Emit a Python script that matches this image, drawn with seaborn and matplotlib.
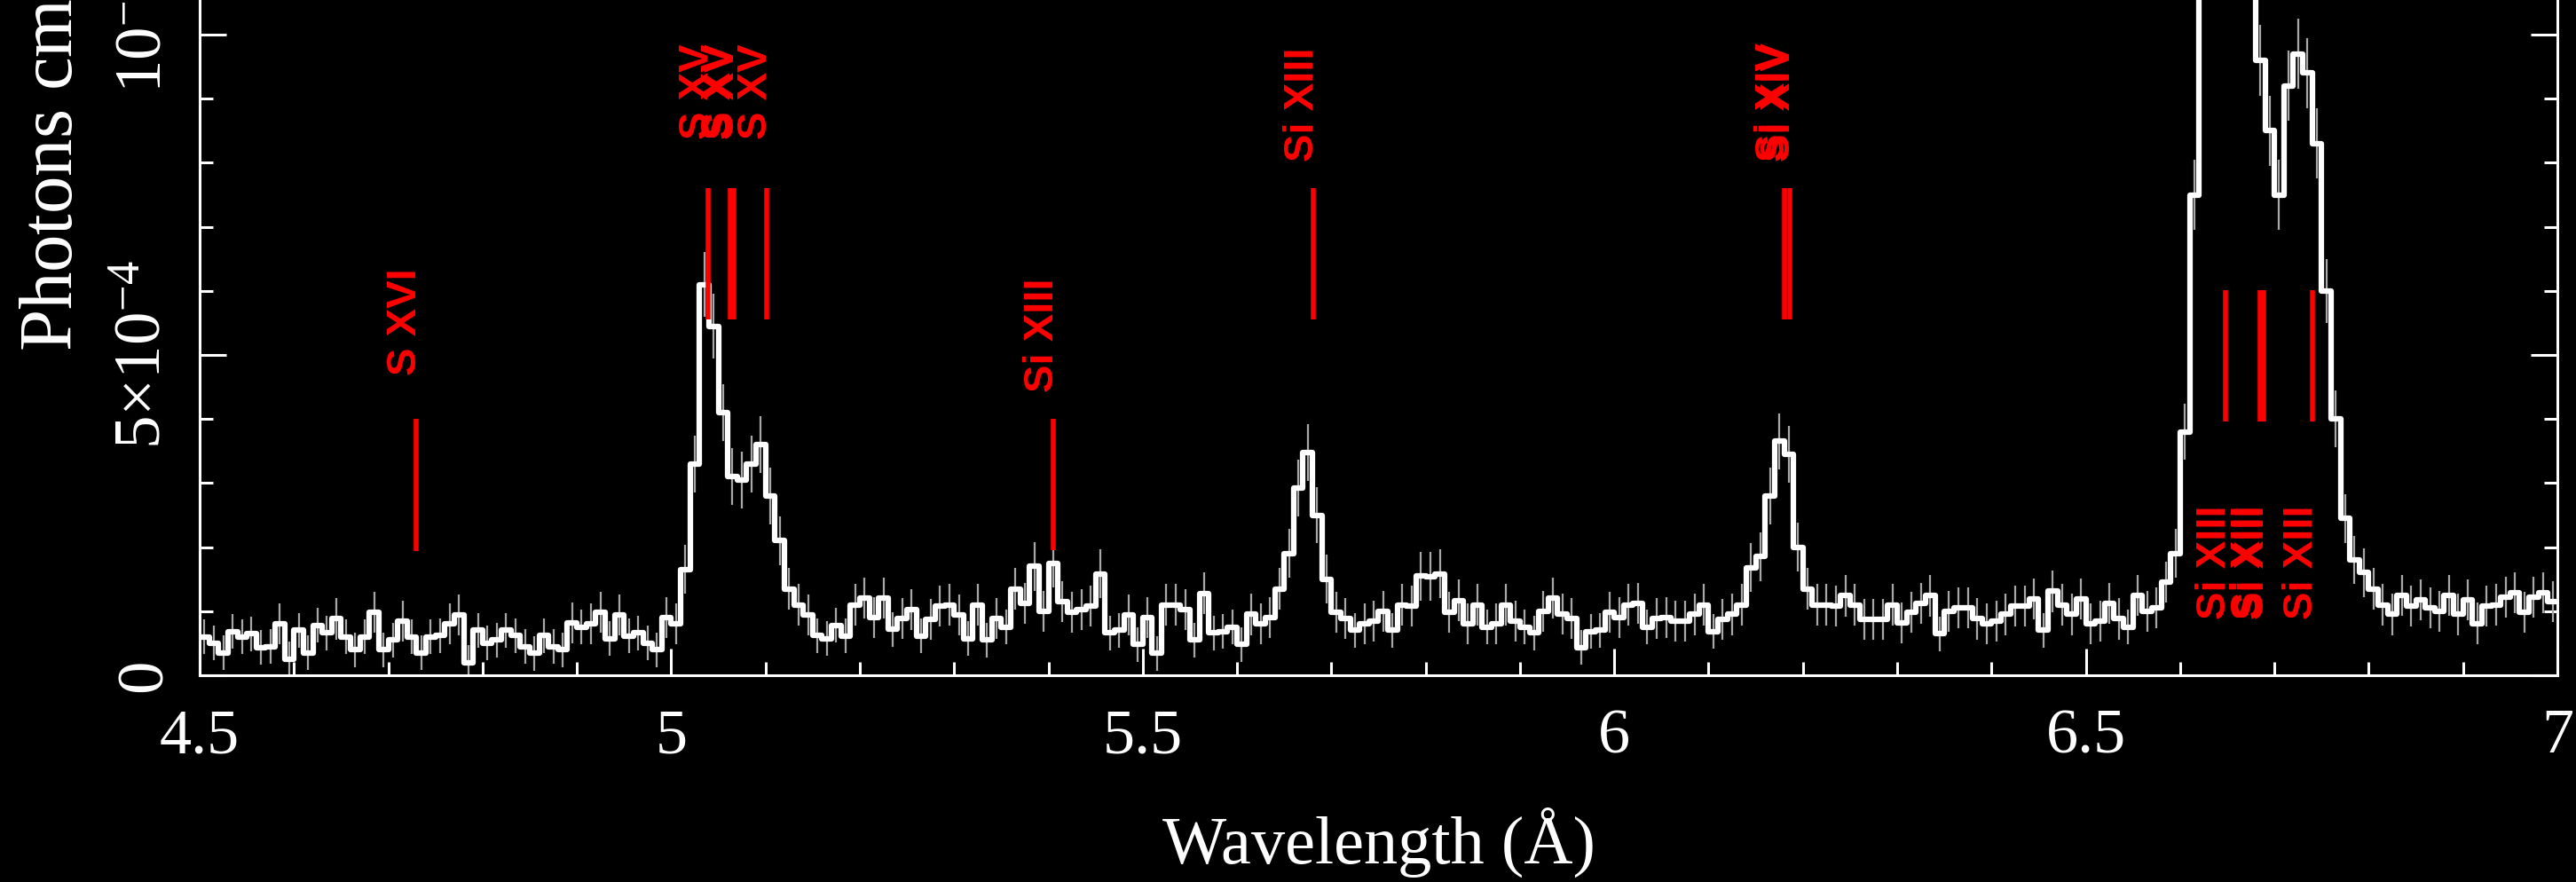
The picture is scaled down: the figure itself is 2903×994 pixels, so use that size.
import numpy as np
import pandas as pd
import matplotlib
matplotlib.use("Agg")
import matplotlib.pyplot as plt
import seaborn as sns
from matplotlib.ticker import MultipleLocator

# ---------------- data (flux in units of 1e-4) ----------------
bin_start = 4.50
bin_width = 0.01

flux_450 = [0.6, 0.5, 0.35, 0.68, 0.6, 0.65, 0.43, 0.45, 0.8, 0.25,
            0.7, 0.35, 0.78, 0.66, 0.88, 0.6, 0.4, 0.6, 0.98, 0.4,
            0.55, 0.84, 0.6, 0.35, 0.6, 0.62, 0.8, 0.94, 0.2, 0.7,
            0.5, 0.55, 0.7, 0.62, 0.45, 0.34, 0.62, 0.45, 0.4, 0.82,
            0.75, 0.8, 0.98, 0.57, 0.94, 0.61, 0.66, 0.5, 0.4, 0.9]
flux_500 = [0.8, 1.65, 3.3, 6.1, 5.45, 4.1, 3.1, 3.05, 3.3, 3.6,
            2.8, 2.1, 1.35, 1.1, 0.94, 0.62, 0.57, 0.78, 0.61, 1.1,
            1.2, 0.9, 1.2, 0.72, 0.89, 1.03, 0.61, 0.87, 1.08, 1.1,
            0.94, 0.57, 1.1, 0.55, 0.89, 0.75, 1.35, 1.12, 1.7, 1.0,
            1.75, 1.15, 0.98, 1.03, 1.08, 1.58, 0.66, 0.7, 0.94, 0.48]
flux_550 = [0.9, 0.34, 1.1, 1.1, 1.03, 0.55, 1.28, 0.66, 0.68, 0.75,
            0.48, 0.95, 0.8, 0.9, 1.35, 1.9, 2.92, 3.48, 2.5, 1.5,
            0.98, 0.89, 0.7, 0.8, 0.85, 1.0, 0.7, 1.1, 1.08, 1.55,
            1.54, 1.58, 0.98, 1.17, 0.8, 1.1, 0.75, 0.8, 1.1, 0.84,
            0.75, 0.66, 1.0, 1.2, 0.96, 0.89, 0.43, 0.68, 0.7, 0.98]
flux_600 = [0.9, 1.1, 1.12, 0.75, 0.89, 0.9, 0.85, 0.84, 0.95, 1.1,
            0.68, 0.87, 0.95, 1.1, 1.68, 1.85, 2.8, 3.65, 3.45, 2.0,
            1.35, 1.1, 1.1, 1.08, 1.24, 1.1, 0.87, 0.87, 0.87, 1.1,
            0.82, 0.98, 1.12, 1.24, 0.65, 1.0, 1.05, 1.05, 0.88, 0.8,
            0.85, 0.95, 1.08, 1.08, 1.19, 0.7, 1.31, 1.1, 0.95, 1.19]
flux_650 = [0.8, 0.85, 1.12, 0.88, 0.75, 1.25, 1.0, 1.05, 1.45, 1.9,
            3.8, 7.5, 12.5, 14.5, 15.5, 15.0, 13.0, 11.2, 9.6, 8.5,
            7.5, 9.2, 9.7, 9.4, 8.3, 6.0, 4.0, 2.45, 1.8, 1.6,
            1.35, 1.1, 0.95, 1.25, 1.08, 1.18, 1.05, 1.0, 1.25, 0.95,
            1.18, 0.81, 1.08, 1.1, 1.22, 1.29, 0.98, 1.22, 1.29, 1.15]

err_450 = [0.27, 0.27, 0.27, 0.27, 0.27, 0.27, 0.27, 0.27, 0.32, 0.27,
           0.27, 0.27, 0.27, 0.27, 0.32, 0.27, 0.27, 0.27, 0.32, 0.27,
           0.27, 0.32, 0.27, 0.27, 0.27, 0.27, 0.32, 0.32, 0.27, 0.27,
           0.27, 0.27, 0.27, 0.27, 0.27, 0.27, 0.27, 0.27, 0.27, 0.32,
           0.27, 0.32, 0.32, 0.27, 0.32, 0.27, 0.27, 0.27, 0.27, 0.32]
err_500 = [0.32, 0.38, 0.44, 0.5, 0.5, 0.44, 0.44, 0.44, 0.44, 0.44,
           0.44, 0.38, 0.32, 0.32, 0.32, 0.27, 0.27, 0.27, 0.27, 0.32,
           0.32, 0.32, 0.32, 0.27, 0.32, 0.32, 0.27, 0.32, 0.32, 0.32,
           0.32, 0.27, 0.32, 0.27, 0.32, 0.27, 0.32, 0.32, 0.38, 0.32,
           0.38, 0.32, 0.32, 0.32, 0.32, 0.38, 0.27, 0.27, 0.32, 0.27]
err_550 = [0.32, 0.27, 0.32, 0.32, 0.32, 0.27, 0.32, 0.27, 0.27, 0.27,
           0.27, 0.32, 0.32, 0.32, 0.32, 0.38, 0.44, 0.44, 0.44, 0.38,
           0.32, 0.32, 0.27, 0.32, 0.32, 0.32, 0.27, 0.32, 0.32, 0.38,
           0.38, 0.38, 0.32, 0.32, 0.32, 0.32, 0.27, 0.32, 0.32, 0.32,
           0.27, 0.27, 0.32, 0.32, 0.32, 0.32, 0.27, 0.27, 0.27, 0.32]
err_600 = [0.32, 0.32, 0.32, 0.27, 0.32, 0.32, 0.32, 0.32, 0.32, 0.32,
           0.27, 0.32, 0.32, 0.32, 0.38, 0.38, 0.44, 0.44, 0.44, 0.38,
           0.32, 0.32, 0.32, 0.32, 0.32, 0.32, 0.32, 0.32, 0.32, 0.32,
           0.32, 0.32, 0.32, 0.32, 0.27, 0.32, 0.32, 0.32, 0.32, 0.32,
           0.32, 0.32, 0.32, 0.32, 0.32, 0.27, 0.32, 0.32, 0.32, 0.32]
err_650 = [0.32, 0.32, 0.32, 0.32, 0.27, 0.32, 0.32, 0.32, 0.32, 0.38,
           0.44, 0.55, 0.6, 0.6, 0.6, 0.6, 0.6, 0.55, 0.55, 0.55,
           0.55, 0.55, 0.55, 0.55, 0.55, 0.5, 0.44, 0.38, 0.38, 0.38,
           0.32, 0.32, 0.32, 0.32, 0.32, 0.32, 0.32, 0.32, 0.32, 0.32,
           0.32, 0.32, 0.32, 0.32, 0.32, 0.32, 0.32, 0.32, 0.32, 0.32]

# line identifications
line_wl = [4.730, 5.0387, 5.0631, 5.0665, 5.1015, 5.405, 5.681,
           6.1804, 6.1858, 6.6479, 6.6850, 6.6882, 6.7403]
line_label = ["S XVI", "S XV", "S XV", "S XV", "S XV", "Si XIII", "Si XIII",
              "Si XIV", "Si XIV", "Si XIII", "Si XIII", "Si XIII", "Si XIII"]
line_lo = [1.94, 5.55, 5.55, 5.55, 5.55, 1.95, 5.55, 5.55, 5.55, 3.96, 3.96, 3.96, 3.96]
line_hi = [4.0, 7.6, 7.6, 7.6, 7.6, 4.0, 7.6, 7.6, 7.6, 6.01, 6.01, 6.01, 6.01]
label_end = [6.35, 9.85, 9.85, 9.85, 9.85, 6.2, 9.8, 9.88, 9.88, 2.65, 2.65, 2.65, 2.65]

x_ticks = [4.5, 5.0, 5.5, 6.0, 6.5, 7.0]
x_ticklabels = ["4.5", "5", "5.5", "6", "6.5", "7"]
y_ticks = [0, 5, 10]
y_ticklabels = ["0", "5×10$^{-4}$", "10$^{-3}$"]

# ---------------- assemble ----------------
flux = flux_450 + flux_500 + flux_550 + flux_600 + flux_650
err = err_450 + err_500 + err_550 + err_600 + err_650
n = len(flux)
edges = np.round(bin_start + bin_width * np.arange(n + 1), 4)
centers = edges[:-1] + bin_width / 2

step_df = pd.DataFrame({"wl": edges, "flux": flux + [flux[-1]]})

# ---------------- style ----------------
sns.set_style("ticks", rc={"axes.facecolor": "black", "figure.facecolor": "black",
                           "axes.edgecolor": "white", "text.color": "white",
                           "xtick.color": "white", "ytick.color": "white",
                           "axes.labelcolor": "white"})
plt.rcParams["font.family"] = ["Liberation Serif", "DejaVu Serif"]
plt.rcParams["mathtext.fontset"] = "custom"
plt.rcParams["mathtext.rm"] = "Liberation Serif"
plt.rcParams["mathtext.it"] = "Liberation Serif:italic"
plt.rcParams["mathtext.bf"] = "Liberation Serif:bold"

W, H = 2903, 994
fig = plt.figure(figsize=(W / 100, H / 100), dpi=100, facecolor="black")
px_per_unit = 72.2
ymax = 11.0
ax_left, ax_right, ax_bottom = 225, 2882, 761
ax_w = ax_right - ax_left
ax_h = ymax * px_per_unit
ax = fig.add_axes([ax_left / W, (H - ax_bottom) / H, ax_w / W, ax_h / H])
ax.set_facecolor("black")

ax.errorbar(centers, flux, yerr=err, fmt="none", ecolor="#a8a8a8",
            elinewidth=1.6, capsize=0, zorder=2)
sns.lineplot(data=step_df, x="wl", y="flux", drawstyle="steps-post",
             color="white", linewidth=4.5, estimator=None, sort=False,
             ax=ax, zorder=3)

ax.vlines(line_wl, line_lo, line_hi, colors="#ff0000", linewidth=4.0, zorder=4)
for wl, lab, yend in zip(line_wl, line_label, label_end):
    ax.text(wl, yend, lab, rotation=90, rotation_mode="anchor", ha="right",
            va="baseline", color="#ff0000", fontsize=34, fontweight="bold",
            family=["Liberation Sans", "DejaVu Sans"], zorder=5)

ax.set_xlim(4.5, 7.0)
ax.set_ylim(0, ymax)
ax.set_xticks(x_ticks, labels=x_ticklabels)
ax.set_yticks(y_ticks, labels=y_ticklabels)
ax.xaxis.set_minor_locator(MultipleLocator(0.1))
ax.yaxis.set_minor_locator(MultipleLocator(1))
ax.tick_params(which="both", direction="in", top=True, right=True,
               colors="white", width=2.2)
ax.tick_params(which="major", length=21.6)
ax.tick_params(which="minor", length=11)
ax.tick_params(axis="x", which="major", pad=27, labelsize=52)
ax.tick_params(axis="y", which="major", pad=20, labelsize=54, labelrotation=90)
for t in ax.get_yticklabels():
    t.set_va("center")
for s in ax.spines.values():
    s.set_color("white")
    s.set_linewidth(2.2)

ax.set_xlabel("Wavelength (Å)", fontsize=55, color="white")
ax.xaxis.set_label_coords(0.5, -(950 - ax_bottom) / ax_h)
ax.xaxis.label.set_va("center")

ax.set_ylabel("Photons cm$^{-2}$ s$^{-1}$ Å$^{-1}$", fontsize=61, color="white")
ax.yaxis.set_label_coords((60 - ax_left) / ax_w, (ax_bottom - 396) / ax_h)
ax.yaxis.label.set_ha("left")
ax.yaxis.label.set_va("center")

fig.savefig("out.png", dpi=100, facecolor="black")
